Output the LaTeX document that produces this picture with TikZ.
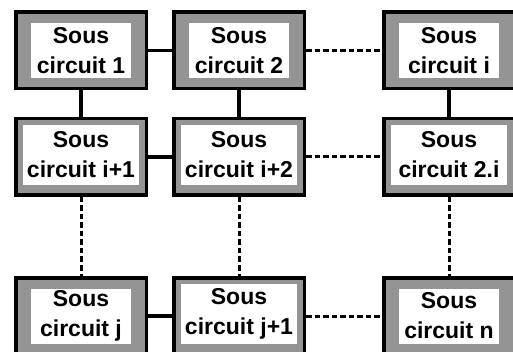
\documentclass[tikz,border=0pt]{standalone}
\usepackage{fontspec}
\setmainfont{Liberation Sans}
\usetikzlibrary{positioning}
\definecolor{dither}{gray}{0.58}

\begin{document}
\begin{tikzpicture}[x=1pt,y=-1pt,
  sc/.style={draw,line width=3.5pt,fill=dither,inner sep=0pt,minimum width=130.5pt,minimum height=76.5pt},
  thickring/.style={fill=white,inner sep=0pt,minimum width=100pt,minimum height=55pt,align=center,
    font=\bfseries\fontsize{23}{30}\selectfont},
  thinring/.style={thickring,minimum width=116pt,minimum height=60pt,yshift=2pt},
  link/.style={line width=3.5pt},
  dlink/.style={line width=3pt,dash pattern=on 5.5pt off 3pt}]
  \useasboundingbox (0,0) rectangle (513,352);
  % first row
  \node[sc] (c1) at (81,50.5) {};
  \node[thickring] (c1t) at (c1) {Sous\\circuit 1};
  \node[sc] (c2) at (239,50.5) {};
  \node[thickring] (c2t) at (c2) {Sous\\circuit 2};
  \node[sc] (ci) at (449,50.5) {};
  \node[thickring] (cit) at (ci) {Sous\\circuit i};
  % second row
  \node[sc] (ci1) at (81,157) {};
  \node[thinring] (ci1t) at (ci1) {Sous\\circuit i+1};
  \node[sc] (ci2) at (239,157) {};
  \node[thinring] (ci2t) at (ci2) {Sous\\circuit i+2};
  \node[sc] (c2i) at (449,157) {};
  \node[thinring] (c2it) at (c2i) {Sous\\circuit 2.i};
  % last row
  \node[sc] (cj) at (81,316) {};
  \node[thickring] (cjt) at (cj) {Sous\\circuit j};
  \node[sc] (cj1) at (239,316) {};
  \node[thinring] (cj1t) at (cj1) {Sous\\circuit j+1};
  \node[sc] (cn) at (449,316) {};
  \node[thickring] (cnt) at (cn) {Sous\\circuit n};
  % links
  \draw[link] (c1) -- (c2);
  \draw[dlink] (c2) -- (ci);
  \draw[link] (ci1) -- (ci2);
  \draw[dlink] (ci2) -- (c2i);
  \draw[link] (cj) -- (cj1);
  \draw[dlink] (cj1) -- (cn);
  \draw[link] (c1) -- (ci1);
  \draw[link] (c2) -- (ci2);
  \draw[link] (ci) -- (c2i);
  \draw[dlink] (ci1) -- (cj);
  \draw[dlink] (ci2) -- (cj1);
  \draw[dlink] (c2i) -- (cn);
\end{tikzpicture}
\end{document}
